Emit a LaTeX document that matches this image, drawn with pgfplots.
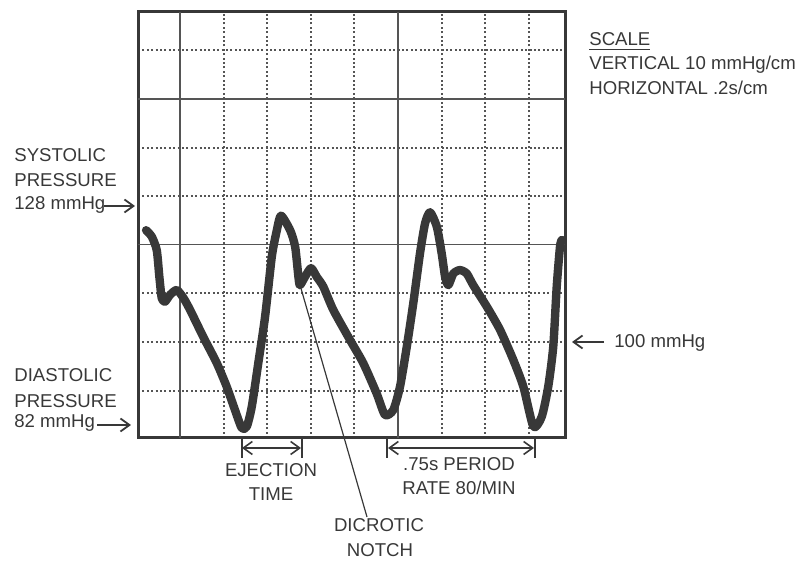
\documentclass[border=0pt]{standalone}
\usepackage{fontspec}
\setmainfont{Liberation Sans}
\usepackage{pgfplots}
\pgfplotsset{compat=1.18}
\usetikzlibrary{arrows.meta}
\definecolor{ink}{HTML}{383838}
\definecolor{gridc}{HTML}{555555}

\begin{document}
\begin{tikzpicture}[x=0.5pt, y=0.5pt,
    lbl/.style={inner sep=0pt, text=ink, font=\fontsize{9.3}{11}\selectfont},
    arr/.style={draw=ink, line width=0.9pt, -{Straight Barb[length=4.5pt,width=6.5pt]}},
    darr/.style={draw=ink, line width=0.8pt, {Straight Barb[length=4.5pt,width=6.5pt]}-{Straight Barb[length=4.5pt,width=6.5pt]}}]
\useasboundingbox (0,0) rectangle (804,562);

\begin{axis}[
    at={(69pt,62pt)}, anchor=south west,
    scale only axis, width=213.5pt, height=213pt,
    xmin=0.007, xmax=1.966,
    ymin=80.25, ymax=167.9,
    xtick={0.4,0.6,0.8,1.0,1.4,1.6,1.8},
    ytick={90,100,110,130,140,160},
    xticklabels={}, yticklabels={},
    major tick length=0pt,
    grid=major,
    major grid style={gridc, line width=1pt, dash pattern=on 1pt off 1.2pt},
    extra x ticks={0.2,1.2},
    extra y ticks={120,150},
    extra x tick labels={,},
    extra y tick labels={,},
    extra tick style={grid=major, major grid style={gridc, line width=0.6pt, solid}},
    axis line style={draw=ink, line width=1.5pt},
]
% arterial pressure trace: time (s) vs pressure (mmHg)
\addplot[ink, line width=4.2pt, line cap=round, line join=round, smooth, tension=0.4]
coordinates {
    (0.044,123.0) (0.070,121.7) (0.093,118.9) (0.105,113.4) (0.116,109.0)
    (0.131,108.3) (0.154,109.7) (0.185,110.7) (0.215,109.1) (0.246,106.6)
    (0.306,101.1) (0.368,95.7) (0.414,90.8) (0.452,86.0) (0.483,82.3)
    (0.506,82.6) (0.529,86.7) (0.559,95.7) (0.590,105.2) (0.621,117.6)
    (0.644,123.0) (0.663,126.0) (0.705,123.0) (0.728,119.6) (0.743,113.4)
    (0.750,111.7) (0.773,113.4) (0.801,115.2) (0.827,113.4) (0.857,111.4)
    (0.903,106.6) (0.980,100.4) (1.041,95.6) (1.102,89.4) (1.140,85.0)
    (1.178,86.0) (1.209,90.8) (1.240,99.0) (1.270,108.0) (1.301,118.3)
    (1.324,124.4) (1.347,126.7) (1.378,123.7) (1.400,118.3) (1.416,113.4)
    (1.431,111.7) (1.454,114.1) (1.484,114.8) (1.515,114.1) (1.545,111.7)
    (1.607,107.3) (1.668,102.5) (1.729,96.3) (1.775,90.8) (1.821,82.6)
    (1.859,84.6) (1.889,90.8) (1.912,99.0) (1.928,111.4) (1.943,119.6)
    (1.951,121.0)
};
\end{axis}

% left labels
\node[lbl, anchor=base west] at (14,400) {SYSTOLIC};
\node[lbl, anchor=base west] at (14,375) {PRESSURE};
\node[lbl, anchor=base west] at (14,352) {128 mmHg};
\draw[arr] (104,356) -- (135,356);
\node[lbl, anchor=base west] at (14,180) {DIASTOLIC};
\node[lbl, anchor=base west] at (14,154) {PRESSURE};
\node[lbl, anchor=base west] at (14,134) {82 mmHg};
\draw[arr] (97,137) -- (131,137);

% scale box text
\node[lbl, anchor=base west] at (589,516) {\underline{SCALE}};
\node[lbl, anchor=base west] at (589,492) {VERTICAL 10 mmHg/cm};
\node[lbl, anchor=base west] at (589,467) {HORIZONTAL .2s/cm};

% 100 mmHg marker
\draw[arr] (604,220) -- (572,220);
\node[lbl, anchor=base west] at (614,214) {100 mmHg};

% ejection time
\draw[ink, line width=1pt] (241.5,104) -- (241.5,123);
\draw[ink, line width=1pt] (302,104) -- (302,123);
\draw[darr] (242,114) -- (301,114);
\node[lbl, anchor=base] at (271,85) {EJECTION};
\node[lbl, anchor=base] at (271,61) {TIME};

% dicrotic notch
\draw[ink, line width=0.6pt] (300,277) -- (367,45);
\node[lbl, anchor=base] at (379,30) {DICROTIC};
\node[lbl, anchor=base] at (380,5) {NOTCH};

% period
\draw[ink, line width=1pt] (387,104) -- (387,123);
\draw[ink, line width=1pt] (535,104) -- (535,123);
\draw[darr] (388,114) -- (534,114);
\node[lbl, anchor=base] at (459,91) {.75s PERIOD};
\node[lbl, anchor=base] at (459,67) {RATE 80/MIN};
\end{tikzpicture}
\end{document}
